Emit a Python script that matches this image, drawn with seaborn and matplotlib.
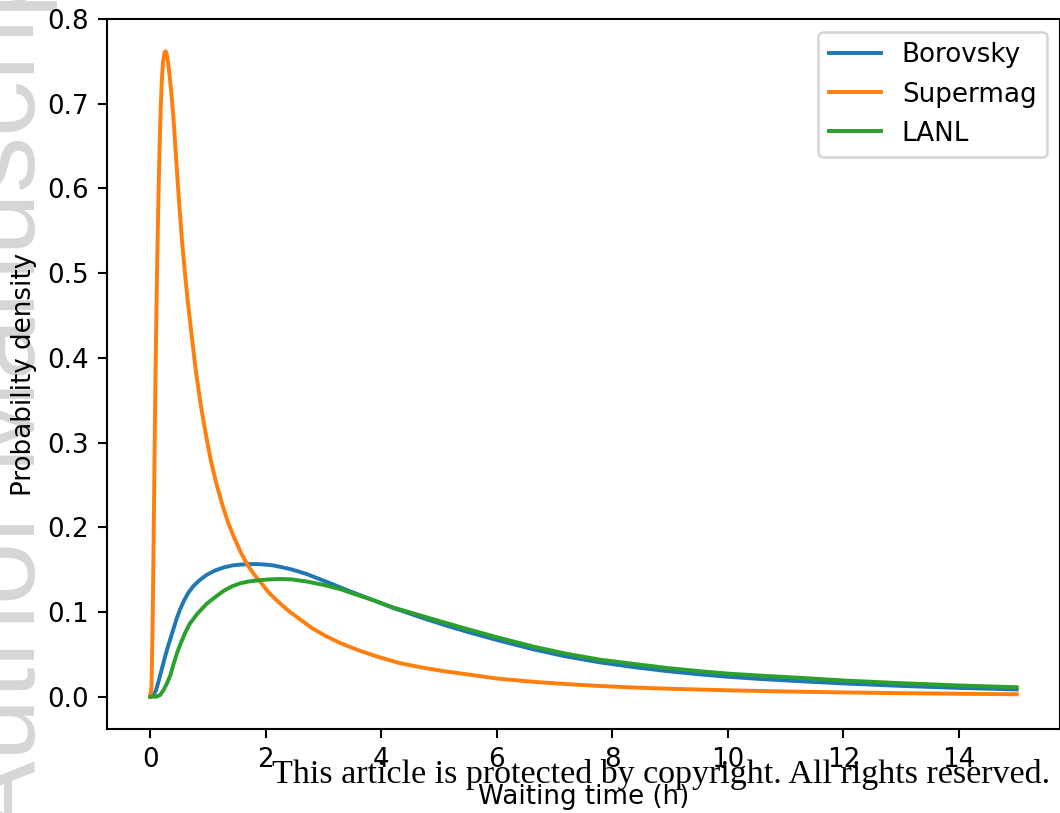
import matplotlib
matplotlib.use("Agg")
import matplotlib.pyplot as plt
import seaborn as sns
import pandas as pd

# Waiting-time probability densities for the three substorm lists
supermag_t = [0, 0.02, 0.04, 0.06, 0.08, 0.10, 0.12, 0.14, 0.16, 0.18, 0.20, 0.22,
              0.245, 0.265, 0.29, 0.32, 0.36, 0.40, 0.45, 0.50, 0.55, 0.60, 0.65,
              0.70, 0.78, 0.87, 0.95, 1.05, 1.15, 1.25, 1.35, 1.45, 1.57, 1.68,
              1.80, 1.90, 2.05, 2.2, 2.4, 2.6, 2.8, 3.0, 3.3, 3.6, 3.9, 4.3, 4.7,
              5.1, 5.5, 6.0, 6.6, 7.2, 7.8, 8.4, 9.0, 10.0, 11.0, 12.0, 13.0, 14.0, 15.0]
supermag_p = [0, 0.012, 0.085, 0.200, 0.325, 0.430, 0.515, 0.588, 0.648, 0.695, 0.728,
              0.750, 0.760, 0.762, 0.757, 0.742, 0.716, 0.684, 0.632, 0.582, 0.537,
              0.500, 0.466, 0.436, 0.389, 0.346, 0.314, 0.278, 0.250, 0.226, 0.205,
              0.188, 0.170, 0.156, 0.144, 0.136, 0.123, 0.113, 0.101, 0.091, 0.081,
              0.073, 0.063, 0.055, 0.048, 0.040, 0.0345, 0.0300, 0.0263, 0.0215, 0.0178,
              0.0149, 0.0126, 0.0108, 0.0094, 0.0076, 0.0062, 0.0051, 0.0042, 0.0035, 0.0029]

borovsky_t = [0, 0.05, 0.10, 0.15, 0.20, 0.25, 0.30, 0.35, 0.40, 0.46, 0.52, 0.58,
              0.66, 0.75, 0.86, 0.98, 1.12, 1.27, 1.42, 1.56, 1.72, 1.85, 2.00, 2.13,
              2.27, 2.42, 2.56, 2.71, 2.85, 3.00, 3.15, 3.29, 3.57, 3.86, 4.20, 4.67,
              5.10, 5.48, 6.00, 6.63, 7.20, 7.79, 8.40, 8.94, 9.50, 10.0, 10.55, 11.2,
              12.0, 13.0, 14.0, 15.0]
borovsky_p = [0, 0.001, 0.008, 0.020, 0.033, 0.046, 0.058, 0.069, 0.080, 0.093, 0.104,
              0.113, 0.123, 0.131, 0.138, 0.144, 0.149, 0.1526, 0.1550, 0.1560, 0.1566,
              0.1566, 0.1560, 0.1550, 0.1530, 0.1507, 0.1480, 0.1448, 0.1410, 0.1370,
              0.1330, 0.1290, 0.1215, 0.1140, 0.1050, 0.0940, 0.0845, 0.0768, 0.0670,
              0.0560, 0.0475, 0.0405, 0.0347, 0.0303, 0.0265, 0.0236, 0.0210, 0.0185,
              0.0157, 0.0128, 0.0104, 0.0086]

lanl_t = [0, 0.10, 0.17, 0.23, 0.29, 0.35, 0.40, 0.46, 0.52, 0.60, 0.69, 0.75, 0.80,
          0.98, 1.15, 1.27, 1.42, 1.56, 1.70, 1.87, 2.05, 2.25, 2.45, 2.71, 3.00, 3.29,
          3.57, 3.86, 4.20, 4.67, 5.10, 5.48, 6.00, 6.63, 7.20, 7.79, 8.40, 8.94, 9.50,
          10.0, 10.55, 11.2, 12.0, 13.0, 14.0, 15.0]
lanl_p = [0, 0.000, 0.002, 0.008, 0.016, 0.026, 0.038, 0.051, 0.062, 0.075, 0.087,
          0.092, 0.097, 0.110, 0.119, 0.125, 0.1305, 0.134, 0.136, 0.1375, 0.1385,
          0.1390, 0.1385, 0.1360, 0.1320, 0.1270, 0.1205, 0.1140, 0.1055, 0.0960,
          0.0875, 0.0800, 0.0703, 0.0592, 0.0508, 0.0437, 0.0385, 0.0340, 0.0302,
          0.0273, 0.0250, 0.0225, 0.0192, 0.0160, 0.0133, 0.0112]

series_names = ["Borovsky", "Supermag", "LANL"]
series_colors = ["#1f77b4", "#ff7f0e", "#2ca02c"]

frames = []
for name, t, p in zip(series_names,
                      [borovsky_t, supermag_t, lanl_t],
                      [borovsky_p, supermag_p, lanl_p]):
    frames.append(pd.DataFrame({"t": t, "p": p, "list": name}))
data = pd.concat(frames, ignore_index=True)

DPI = 188
fig = plt.figure(figsize=(1060 / DPI, 813 / DPI), dpi=DPI)
ax = fig.add_axes([107 / 1060, 84 / 813, 953 / 1060, 710 / 813])

for name, color in zip(series_names, series_colors):
    sub = data[data["list"] == name]
    sns.lineplot(x=sub["t"], y=sub["p"], color=color, label=name, ax=ax,
                 linewidth=1.5, sort=True, estimator=None)

ax.set_xlabel("Waiting time (h)")
ax.set_ylabel("Probability density")
ax.legend(loc="upper right")

# faint vertical banner along the left edge
fig.text(0.033, 1.094, "Author Manuscript", rotation=90, rotation_mode="anchor",
         ha="right", va="baseline", fontsize=43, color="#d6d6d6",
         family="Liberation Sans", zorder=-1)

fig.text(0.6236, 30 / 813,
         "This article is protected by copyright. All rights reserved.",
         ha="center", va="baseline", fontsize=13, family="Liberation Serif",
         color="black")

fig.savefig("out.png", dpi=DPI)
